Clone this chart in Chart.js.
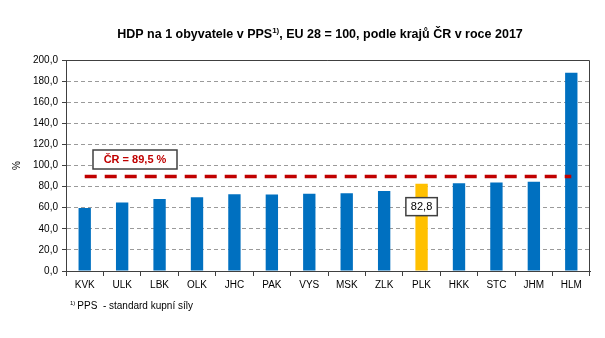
<!DOCTYPE html>
<html>
<head>
<meta charset="utf-8">
<script src="https://cdn.jsdelivr.net/npm/chart.js@4/dist/chart.umd.min.js"></script>
<style>
html,body{margin:0;padding:0;background:#fff;}
#wrap{width:605px;height:338px;position:relative;}
</style>
</head>
<body>
<div id="wrap"><canvas id="c" width="605" height="338"></canvas></div>
<script>
const categories = ["KVK","ULK","LBK","OLK","JHC","PAK","VYS","MSK","ZLK","PLK","HKK","STC","JHM","HLM"];
const gdpValues = [59.7, 64.9, 68.3, 69.8, 72.7, 72.4, 73.3, 73.6, 75.8, 82.8, 83.1, 84.0, 84.7, 188.0];
const czAverage = 89.5;
const highlighted = "PLK";
const yTicks = [0,20,40,60,80,100,120,140,160,180,200];
const titleMain = "HDP na 1 obyvatele v PPS";
const titleSup = "1)";
const titleRest = ", EU 28 = 100, podle krajů ČR v roce 2017";
const footSup = "1)";
const footText = "PPS  - standard kupní síly";
const avgLabel = "ČR = 89,5 %";

const FONT = "'Liberation Sans', Arial, sans-serif";
const fmt = v => v.toFixed(1).replace('.', ',');

const barColors = categories.map(c => c === highlighted ? '#FFC000' : '#0070C0');

const decor = {
  id: 'decor',
  afterDatasetsDraw(chart) {
    const ctx = chart.ctx;
    const {left, right, top, bottom} = chart.chartArea;
    const x = chart.scales.x, y = chart.scales.y;
    ctx.save();
    ctx.strokeStyle = '#404040';
    ctx.lineWidth = 1;
    ctx.beginPath();
    ctx.moveTo(left, top + 0.5);
    ctx.lineTo(right - 0.5, top + 0.5);
    ctx.lineTo(right - 0.5, bottom);
    ctx.stroke();

    ctx.font = "bold 11px " + FONT;
    const bx = 93, by = 150, bw = 84, bh = 19;
    ctx.fillStyle = '#fff';
    ctx.fillRect(bx, by, bw, bh);
    ctx.strokeStyle = '#404040';
    ctx.lineWidth = 1.5;
    ctx.strokeRect(bx, by, bw, bh);
    ctx.fillStyle = '#C00000';
    ctx.textAlign = 'center';
    ctx.textBaseline = 'middle';
    ctx.fillText(avgLabel, bx + bw / 2, by + bh / 2 + 0.5);

    const idx = categories.indexOf(highlighted);
    const cx = x.getPixelForValue(idx);
    const cy = y.getPixelForValue(gdpValues[idx]) + 23;
    ctx.font = "11px " + FONT;
    const lbl = fmt(gdpValues[idx]);
    const lw = ctx.measureText(lbl).width + 10;
    const lh = 18;
    ctx.fillStyle = '#fff';
    ctx.fillRect(cx - lw / 2, cy - lh / 2, lw, lh);
    ctx.strokeStyle = '#404040';
    ctx.lineWidth = 1.5;
    ctx.strokeRect(cx - lw / 2, cy - lh / 2, lw, lh);
    ctx.fillStyle = '#000';
    ctx.fillText(lbl, cx, cy + 0.5);
    ctx.restore();
  },
  afterDraw(chart) {
    const ctx = chart.ctx;
    ctx.save();
    ctx.textBaseline = 'alphabetic';
    ctx.textAlign = 'left';
    ctx.font = "bold 12.5px " + FONT;
    const w1 = ctx.measureText(titleMain).width;
    const w3 = ctx.measureText(titleRest).width;
    ctx.font = "bold 8px " + FONT;
    const w2 = ctx.measureText(titleSup).width;
    const total = w1 + w2 + w3;
    let tx = 320 - total / 2;
    const ty = 38;
    ctx.fillStyle = '#000';
    ctx.font = "bold 12.5px " + FONT;
    ctx.fillText(titleMain, tx, ty);
    ctx.font = "bold 8px " + FONT;
    ctx.fillText(titleSup, tx + w1, ty - 5);
    ctx.font = "bold 12.5px " + FONT;
    ctx.fillText(titleRest, tx + w1 + w2, ty);
    ctx.font = "6px " + FONT;
    ctx.fillText(footSup, 70, 305);
    const sw = ctx.measureText(footSup).width;
    ctx.font = "10px " + FONT;
    ctx.fillText(footText, 70 + sw + 2, 309);
    ctx.restore();
  }
};

new Chart(document.getElementById('c'), {
  data: {
    labels: categories,
    datasets: [
      {
        type: 'line',
        label: 'ČR',
        data: categories.map(() => czAverage),
        borderColor: '#C00000',
        borderWidth: 3.5,
        borderDash: [12, 8],
        pointRadius: 0,
        fill: false,
        order: 0
      },
      {
        type: 'bar',
        label: 'HDP',
        data: gdpValues,
        backgroundColor: barColors,
        borderWidth: 0,
        barPercentage: 0.33,
        categoryPercentage: 1.0,
        order: 1
      }
    ]
  },
  options: {
    responsive: false,
    animation: false,
    devicePixelRatio: 1,
    layout: { padding: { left: 11, right: 15, top: 60, bottom: 47 } },
    plugins: {
      legend: { display: false },
      tooltip: { enabled: false },
      title: { display: false }
    },
    scales: {
      x: {
        offset: true,
        grid: {
          offset: true,
          drawOnChartArea: false,
          drawTicks: true,
          tickLength: 5,
          tickColor: '#404040',
          tickWidth: 1
        },
        border: { display: true, color: '#404040', width: 1 },
        ticks: {
          color: '#000',
          font: { family: FONT, size: 10 },
          padding: 3,
          maxRotation: 0,
          autoSkip: false
        },
        afterFit(s) { s.height = 20; }
      },
      y: {
        min: 0,
        max: 200,
        afterBuildTicks(s) { s.ticks = yTicks.map(v => ({ value: v })); },
        grid: {
          color: '#9a9a9a',
          lineWidth: 1,
          drawTicks: true,
          tickLength: 4,
          tickColor: '#404040',
          tickWidth: 1,
          tickBorderDash: []
        },
        border: { display: true, color: '#404040', width: 1, dash: [4, 3] },
        ticks: {
          color: '#000',
          font: { family: FONT, size: 10 },
          padding: 4,
          callback: v => fmt(v)
        },
        title: {
          display: true,
          text: '%',
          color: '#000',
          font: { family: FONT, size: 10 },
          padding: { top: 0, bottom: 6 }
        },
        afterFit(s) { s.width = 55; }
      }
    }
  },
  plugins: [decor]
});
</script>
</body>
</html>
